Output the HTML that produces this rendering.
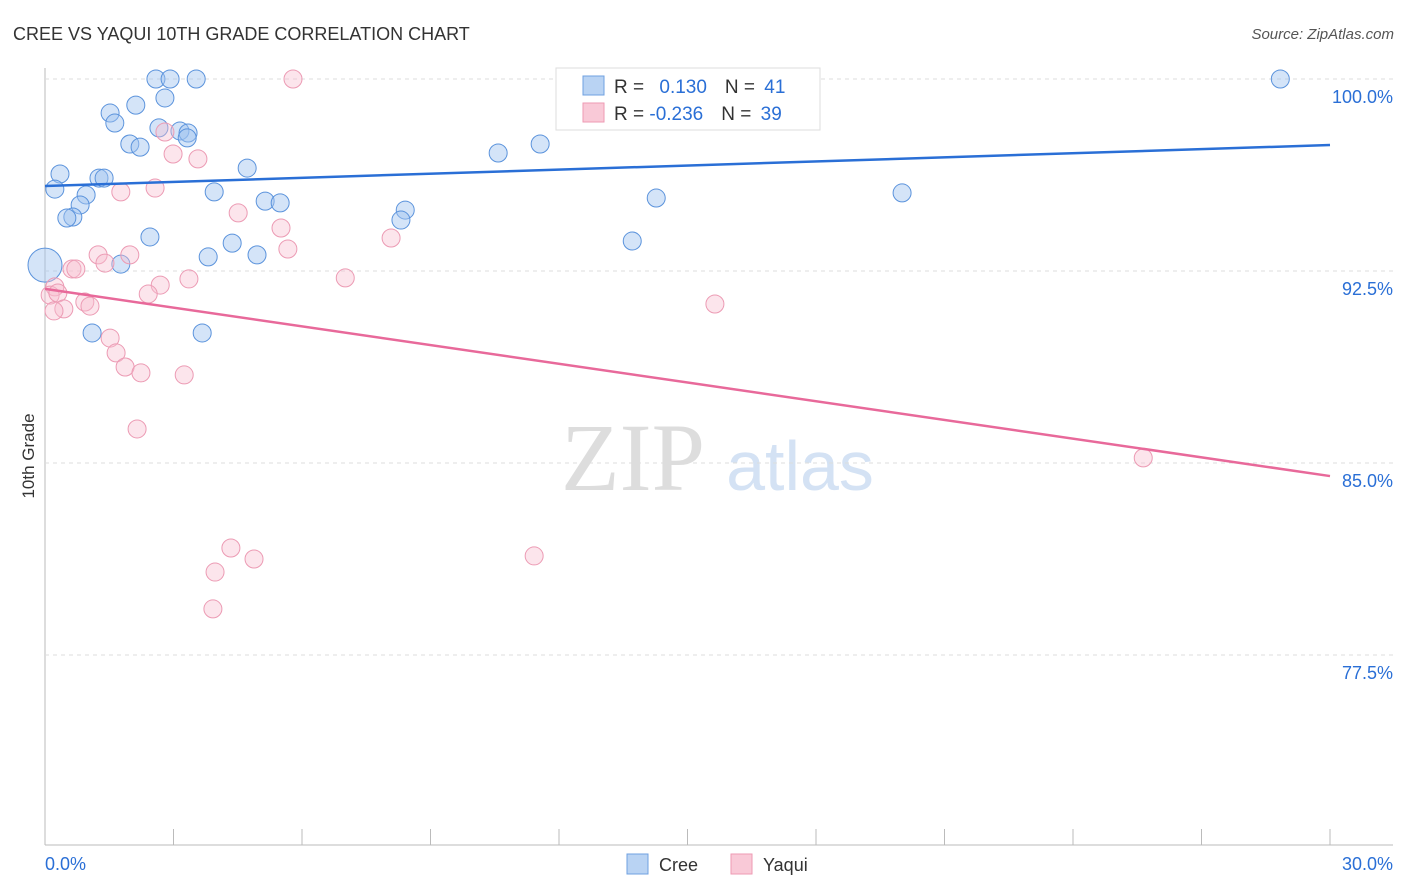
<!DOCTYPE html>
<html><head><meta charset="utf-8"><style>
body{margin:0;background:#fff;font-family:"Liberation Sans",sans-serif}
svg{display:block}
</style></head><body>
<svg id="c" width="1406" height="892" font-family="Liberation Sans, sans-serif">
<text x="13" y="40" font-size="18" fill="#333">CREE VS YAQUI 10TH GRADE CORRELATION CHART</text>
<text x="1394" y="39" font-size="15" fill="#555" font-style="italic" text-anchor="end">Source: ZipAtlas.com</text>
<text x="633" y="490" font-size="96" fill="#ddd" font-family="Liberation Serif, serif" text-anchor="middle">ZIP</text>
<text x="800" y="490" font-size="70" fill="#d4e2f4" text-anchor="middle">atlas</text>
<text transform="translate(34,456) rotate(-90)" font-size="17" fill="#333" text-anchor="middle">10th Grade</text>
<g id="grid"></g><g id="pts"></g><g id="lines"></g>
<g>
<rect x="556" y="68" width="264" height="62" fill="#fff" stroke="#ddd"/>
<rect x="583" y="76" width="21" height="19" fill="#b9d3f3" stroke="#6fa0e0"/>
<rect x="583" y="103" width="21" height="19" fill="#f9c9d7" stroke="#ee9ab3"/>
<text x="614" y="93" font-size="19" fill="#333">R = <tspan fill="#2a6fd6" dx="10">0.130</tspan><tspan dx="18" fill="#333">N = </tspan><tspan fill="#2a6fd6" dx="4">41</tspan></text>
<text x="614" y="120" font-size="19" fill="#333">R = <tspan fill="#2a6fd6">-0.236</tspan><tspan dx="18" fill="#333">N = </tspan><tspan fill="#2a6fd6" dx="4">39</tspan></text>
</g>
<g>
<rect x="627" y="854" width="21" height="20" fill="#b9d3f3" stroke="#6fa0e0"/>
<text x="659" y="871" font-size="18" fill="#333">Cree</text>
<rect x="731" y="854" width="21" height="20" fill="#f9c9d7" stroke="#ee9ab3"/>
<text x="763" y="871" font-size="18" fill="#333">Yaqui</text>
</g>
<text x="45" y="870" font-size="18" fill="#2a6fd6">0.0%</text>
<text x="1393" y="870" font-size="18" fill="#2a6fd6" text-anchor="end">30.0%</text>
</svg>
<script>
const yTicks=[100,92.5,85,77.5];
const xTicks=[0,3,6,9,12,15,18,21,24,27,30];
const creeX=[2.59,2.92,3.53,2.80,1.52,2.12,1.63,2.66,3.15,3.34,3.32,1.98,2.22,0.35,1.26,1.38,0.23,0.96,0.82,0.65,0.51,3.95,4.72,2.45,5.14,5.49,8.41,8.31,4.37,3.81,4.95,1.77,0,1.10,3.67,10.58,11.56,14.27,13.71,20.01,28.84];
const creeY=[100,100,100,99.26,98.67,98.98,98.28,98.09,97.97,97.89,97.70,97.46,97.34,96.29,96.13,96.13,95.70,95.47,95.08,94.61,94.57,95.59,96.52,93.83,95.23,95.16,94.88,94.49,93.59,93.05,93.13,92.77,92.73,90.08,90.08,97.11,97.46,95.35,93.67,95.55,100];
const yaquiX=[5.79,2.80,2.99,3.57,1.77,2.57,4.51,5.51,5.67,8.08,1.24,1.98,1.40,0.63,0.72,3.36,7.01,2.69,2.41,0.23,0.12,0.30,0.93,1.05,0.44,0.21,15.64,1.52,1.66,1.87,2.24,3.25,2.15,25.64,4.34,4.88,3.97,11.42,3.92];
const yaquiY=[100,97.93,97.07,96.88,95.59,95.74,94.77,94.18,93.36,93.79,93.13,93.13,92.81,92.58,92.58,92.19,92.23,91.95,91.60,91.88,91.56,91.64,91.29,91.13,91.02,90.94,91.21,89.88,89.30,88.75,88.52,88.44,86.33,85.20,81.68,81.25,80.74,81.37,79.30];
const creeTrend=[95.82,97.42];
const yaquiTrend=[91.80,84.49];
const X=v=>45+v/30*1285, Y=v=>79+(100-v)/7.5*192;
const NS='http://www.w3.org/2000/svg';
function mk(t,a,p){const e=document.createElementNS(NS,t);for(const k in a)e.setAttribute(k,a[k]);p.appendChild(e);return e;}
const g=document.getElementById('grid');
mk('line',{x1:45,y1:68,x2:45,y2:845,stroke:'#bbb'},g);
mk('line',{x1:45,y1:845,x2:1393,y2:845,stroke:'#bbb'},g);
yTicks.forEach(t=>{
 const l=mk('line',{x1:45,y1:Y(t),x2:1393,y2:Y(t),stroke:'#ddd','stroke-dasharray':'4,4'},g);
 
 
 const tx=mk('text',{x:1393,y:Y(t)+24,'font-size':18,fill:'#2a6fd6','text-anchor':'end'},g);
 tx.textContent=t.toFixed(1)+'%';
 
 
});
xTicks.forEach(t=>{
 const l=mk('line',{x1:X(t),y1:829,x2:X(t),y2:845,stroke:'#bbb'},g);
 
 
});
const p=document.getElementById('pts');
creeX.forEach((v,i)=>{
 const c=mk('circle',{cx:X(v),cy:Y(creeY[i]),r:i==32?17:9,fill:'rgba(160,196,240,0.45)',stroke:'#5b93dc','stroke-width':1},p);
 
 
});
yaquiX.forEach((v,i)=>{
 const c=mk('circle',{cx:X(v),cy:Y(yaquiY[i]),r:9,fill:'rgba(248,190,207,0.4)',stroke:'#ec9bb4','stroke-width':1},p);
 
 
});
const L=document.getElementById('lines');
const b=mk('line',{x1:X(0),y1:Y(creeTrend[0]),x2:X(30),y2:Y(creeTrend[1]),stroke:'#2a6fd6','stroke-width':2.5},L);


const r=mk('line',{x1:X(0),y1:Y(yaquiTrend[0]),x2:X(30),y2:Y(yaquiTrend[1]),stroke:'#e8699a','stroke-width':2.5},L);


</script>
</body></html>
